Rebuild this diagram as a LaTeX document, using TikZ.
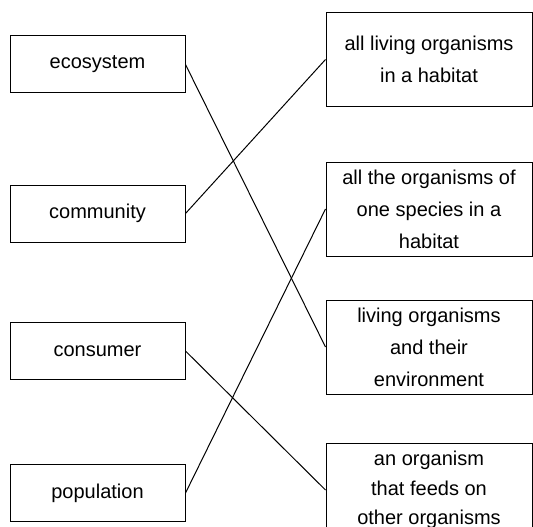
\documentclass[tikz,border=0pt]{standalone}
\usepackage{fontspec}
\setmainfont{Liberation Sans}

\begin{document}
\begin{tikzpicture}[x=1pt,y=1pt,node distance=140pt,
    every node/.style={draw=black,line width=1pt,inner sep=0pt,align=center,
      font=\fontsize{20}{32}\selectfont},
    term/.style={minimum width=175pt,minimum height=57pt},
    meaning/.style={minimum width=206pt,minimum height=94pt}]
    \useasboundingbox (0,0) rectangle (533,-527);

    \node(eco)[term] at (97.5,-64.5) {ecosystem};
    \node(comm)[term,below of=eco,yshift=-9pt] {community};
    \node(cons)[term,below of=comm,yshift=2.5pt] {consumer};
    \node(pop)[term,below of=cons,yshift=-2pt] {population};

    \node(hab)[meaning] at (429,-59.5) {all living organisms\\in a habitat};
    \node(spec)[meaning,below of=hab,yshift=-9.5pt] {all the organisms of\\one species in a\\habitat};
    \node(env)[meaning,below of=spec,yshift=2pt] {living organisms\\and their\\environment};
    \node(feed)[meaning,below of=env,yshift=-3pt,
      font=\fontsize{20}{29.5}\selectfont] {an organism\\that feeds on\\other organisms};

    \path[draw=black,line width=1pt](eco.east) -- (env.west);
    \path[draw=black,line width=1pt](comm.east) -- (hab.west);
    \path[draw=black,line width=1pt](cons.east) -- (feed.west);
    \path[draw=black,line width=1pt](pop.east) -- (spec.west);

  \end{tikzpicture}
\end{document}
